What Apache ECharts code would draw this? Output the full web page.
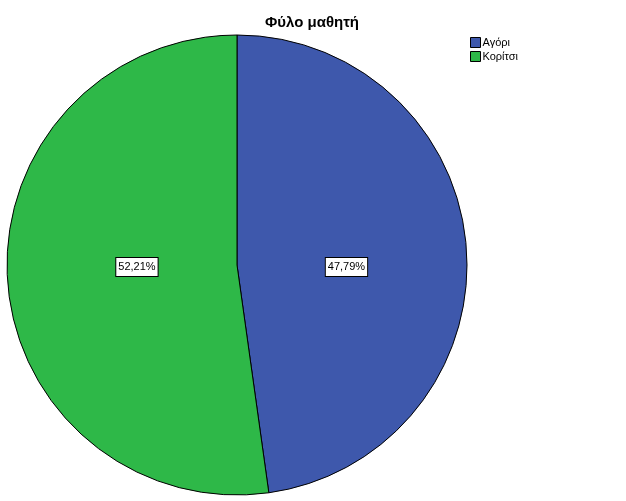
<!DOCTYPE html>
<html>
<head>
<meta charset="utf-8">
<script src="https://cdn.jsdelivr.net/npm/echarts@6/dist/echarts.min.js"></script>
<style>
html,body{margin:0;padding:0;background:#fff;}
#chart{width:626px;height:501px;}
</style>
</head>
<body>
<div id="chart"></div>
<script>
const titleText = 'Φύλο μαθητή';
const categories = ['Αγόρι', 'Κορίτσι'];
const percentages = [47.79, 52.21];
const colors = ['#3E58AC', '#2EB848'];

const chart = echarts.init(document.getElementById('chart'));
const font = '"Liberation Sans", Arial, sans-serif';
const cx = 237, cy = 265;
chart.setOption({
  animation: false,
  backgroundColor: '#ffffff',
  title: {
    text: titleText,
    left: 312,
    textAlign: 'center',
    top: 15,
    padding: 0,
    textStyle: { fontFamily: font, fontSize: 15, fontWeight: 'bold', color: '#000' }
  },
  legend: {
    orient: 'vertical',
    left: 470,
    top: 37,
    padding: 0,
    itemWidth: 10,
    itemHeight: 10,
    itemGap: 3,
    icon: 'rect',
    data: categories,
    itemStyle: { borderColor: '#000', borderWidth: 1 },
    textStyle: { fontFamily: font, fontSize: 11, color: '#000', padding: [0, 0, 0, -3] }
  },
  series: [{
    type: 'pie',
    center: [cx, cy],
    radius: 230,
    startAngle: 90,
    clockwise: true,
    silent: true,
    data: categories.map((c, i) => ({
      name: c,
      value: percentages[i],
      itemStyle: { color: colors[i] }
    })),
    itemStyle: { borderColor: '#000', borderWidth: 1 },
    label: {
      show: true,
      position: 'inside',
      formatter: p => p.value.toFixed(2).replace('.', ',') + '%',
      fontFamily: font,
      fontSize: 11,
      color: '#000',
      backgroundColor: '#fff',
      borderColor: '#000',
      borderWidth: 1,
      padding: [4, 2, 3, 2]
    },
    labelLayout: function (params) {
      const r = params.labelRect;
      const mx = r.x + r.width / 2;
      const dist = Math.abs(mx - cx);
      // SPSS places labels horizontally level with the centre, slightly inward
      const f = params.dataIndex === 0 ? 0.93 : 0.85;
      return {
        x: cx + Math.sign(mx - cx) * dist * f,
        y: cy + 2,
        align: 'center',
        verticalAlign: 'middle'
      };
    },
    labelLine: { show: false },
    emphasis: { disabled: true }
  }]
});
</script>
</body>
</html>
